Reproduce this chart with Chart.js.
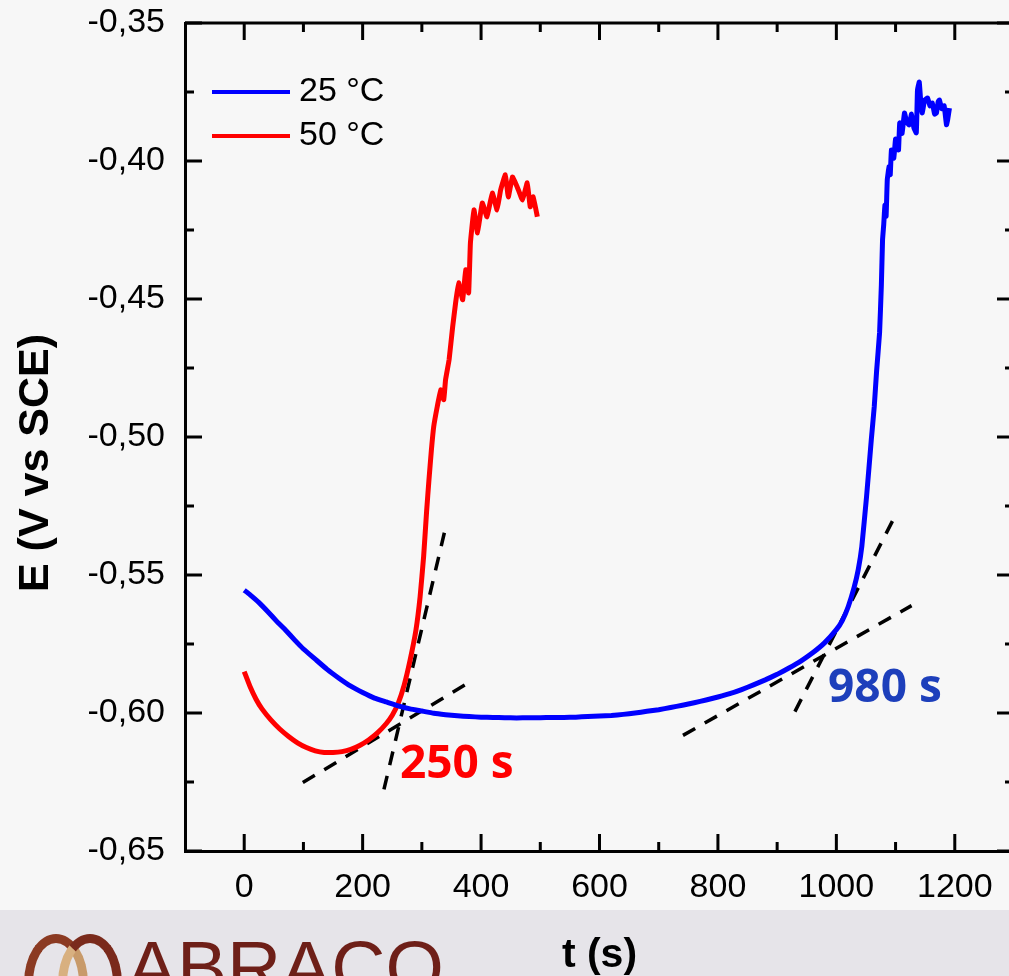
<!DOCTYPE html>
<html>
<head>
<meta charset="utf-8">
<script src="https://cdn.jsdelivr.net/npm/chart.js@4.4.1/dist/chart.umd.min.js"></script>
<style>
  html, body { margin: 0; padding: 0; width: 1009px; height: 976px; overflow: hidden; background: #f7f7f7; }
  #band { position: absolute; left: 0; top: 910px; width: 1009px; height: 66px; background: #e6e4e9; }
  #logo-text { position: absolute; left: 127px; top: 930px; font-family: "Liberation Sans", Arial, sans-serif; font-size: 75px; line-height: 75px; color: #6e1f18; }
  .ring { position: absolute; top: 934px; width: 46px; height: 80px; border-radius: 50%; border: 9px solid #8b3a22; }
  #ring1 { left: 24px; border-color: #8b3a22 #c89a6a #c89a6a #8b3a22; }
  #ring2 { left: 58px; border-color: #7a2a1c #7a2a1c #d8b080 #d8b080; }
  #wrap { position: absolute; left: 0; top: 0; width: 1040px; height: 976px; }
</style>
</head>
<body>
<div id="band"></div>
<div class="ring" id="ring1"></div>
<div class="ring" id="ring2"></div>
<div id="logo-text">ABRACO</div>
<div id="wrap"><canvas id="my-chart"></canvas></div>
<script>
'use strict';

// ********************* DATA *********************

let seriesNames = ['25 °C', '50 °C'];
let seriesColors = ['#0000ff', '#ff0000'];

// 25 °C curve
let blueT = [0, 10, 25, 40, 55, 70, 85, 100, 120, 140, 160, 180, 200, 220, 240, 260, 280, 300, 320, 340,
  360, 380, 400, 420, 440, 460, 480, 500, 520, 540, 560, 580, 600, 620, 640, 660, 680, 700, 720, 740,
  760, 780, 800, 820, 840, 860, 880, 900, 920, 940, 960, 980, 1000, 1010, 1020, 1030, 1037, 1043, 1051, 1059, 1064,
  1068, 1073, 1076, 1078, 1080, 1082, 1084, 1086, 1089, 1091, 1093, 1097, 1100, 1103, 1105, 1107, 1111, 1115, 1119, 1123,
  1127, 1131, 1135, 1137, 1140, 1143, 1145, 1149, 1154, 1158, 1162, 1166, 1169, 1172, 1174, 1178, 1182, 1186, 1188, 1191];
let blueE = [-0.5555, -0.5572, -0.5600, -0.5633, -0.5668, -0.5700, -0.5735, -0.5768, -0.5805, -0.5842, -0.5874, -0.5903, -0.5926, -0.5946, -0.5960, -0.5974, -0.5985, -0.5993, -0.6001, -0.6006,
  -0.6010, -0.6013, -0.6015, -0.6016, -0.6017, -0.6018, -0.6017, -0.6017, -0.6016, -0.6016, -0.6015, -0.6013, -0.6011, -0.6009, -0.6005, -0.6000, -0.5994, -0.5988, -0.5980, -0.5972,
  -0.5963, -0.5953, -0.5942, -0.5930, -0.5915, -0.5898, -0.5880, -0.5860, -0.5837, -0.5812, -0.5782, -0.5746, -0.5698, -0.5665, -0.5615, -0.5545, -0.5480, -0.5397, -0.5216, -0.5010, -0.4890,
  -0.4760, -0.4622, -0.4450, -0.4286, -0.4230, -0.4160, -0.4200, -0.4068, -0.4020, -0.4050, -0.3960, -0.3990, -0.3920, -0.3934, -0.3960, -0.3862, -0.3900, -0.3826, -0.3860, -0.3869,
  -0.3830, -0.3880, -0.3898, -0.3743, -0.3714, -0.3800, -0.3826, -0.3780, -0.3772, -0.3800, -0.3790, -0.3830, -0.3826, -0.3785, -0.3779, -0.3810, -0.3800, -0.3869, -0.3850, -0.3808];

// 50 °C curve
let redT = [0, 10, 20, 30, 45, 60, 75, 90, 105, 120, 135, 150, 165, 180, 195, 210, 225, 240, 250, 260,
  270, 280, 290, 297, 303, 308, 312, 316, 320, 326, 332, 337, 340, 346, 352, 357, 362, 369, 374, 379,
  382, 388, 394, 402, 410, 419, 427, 433, 441, 446, 453, 461, 470, 478, 483, 488, 495];
let redE = [-0.5850, -0.5905, -0.5950, -0.5985, -0.6025, -0.6058, -0.6085, -0.6108, -0.6125, -0.6137, -0.6143, -0.6143, -0.6140, -0.6132, -0.6118, -0.6098, -0.6072, -0.6038, -0.6008, -0.5965,
  -0.5900, -0.5810, -0.5700, -0.5580, -0.5433, -0.5270, -0.5155, -0.5050, -0.4963, -0.4890, -0.4829, -0.4865, -0.4793, -0.4720, -0.4601, -0.4514, -0.4441, -0.4503, -0.4394, -0.4478,
  -0.4297, -0.4177, -0.4260, -0.4152, -0.4202, -0.4116, -0.4177, -0.4105, -0.4050, -0.4130, -0.4058, -0.4094, -0.4141, -0.4079, -0.4166, -0.4130, -0.4202];

// dashed tangent lines (start / end)
let tangentT = [[99, 379], [236, 338], [741, 1127], [930, 1103]];
let tangentE = [[-0.6252, -0.5890], [-0.6277, -0.5347], [-0.6081, -0.5611], [-0.5995, -0.5270]];

// onset labels
let noteText = ['250 s', '980 s'];
let noteT = [359, 1082];
let noteE = [-0.6188, -0.5913];
let noteColors = ['#ff0000', '#1d3fbb'];

// axes
let xTicks = [0, 200, 400, 600, 800, 1000, 1200];
let xMinor = [100, 300, 500, 700, 900, 1100];
let yTicks = [-0.65, -0.60, -0.55, -0.50, -0.45, -0.40, -0.35];
let yMinor = [-0.625, -0.575, -0.525, -0.475, -0.425, -0.375];
let yTitle = 'E (V vs SCE)';

// ********************* HELPERS *********************

function toPoints(ts, es) {
  let pts = [];
  for (let i = 0; i < ts.length; i++) {
    pts.push({ x: ts[i], y: es[i] });
  }
  return pts;
}

let datasets = [
  { label: seriesNames[0], data: toPoints(blueT, blueE), borderColor: seriesColors[0], borderWidth: 5, pointRadius: 0, tension: 0.1 },
  { label: seriesNames[1], data: toPoints(redT, redE), borderColor: seriesColors[1], borderWidth: 5, pointRadius: 0, tension: 0.1 }
];

for (let i = 0; i < tangentT.length; i++) {
  datasets.push({
    label: 'tangent' + i,
    data: toPoints(tangentT[i], tangentE[i]),
    borderColor: '#000000',
    borderWidth: 3.5,
    borderDash: [14, 11],
    pointRadius: 0
  });
}

const tickFont = { family: '"Liberation Sans", Arial, sans-serif', size: 34 };
const titleFont = { family: '"Liberation Sans", Arial, sans-serif', size: 41, weight: 'bold', lineHeight: 1 };

// frame, inward ticks, y title, legend, notes
const extrasPlugin = {
  id: 'extras',
  afterDraw(chart) {
    let ctx = chart.ctx;
    let area = chart.chartArea;
    let xs = chart.scales.x;
    let ys = chart.scales.y;
    ctx.save();
    ctx.strokeStyle = '#000';
    ctx.lineWidth = 3;
    ctx.beginPath();
    ctx.moveTo(area.left, area.top);
    ctx.lineTo(area.right, area.top);
    ctx.lineTo(area.right, area.bottom);
    ctx.stroke();

    function xTick(v, len) {
      let px = xs.getPixelForValue(v);
      ctx.moveTo(px, area.bottom); ctx.lineTo(px, area.bottom - len);
      ctx.moveTo(px, area.top); ctx.lineTo(px, area.top + len);
    }
    function yTick(v, len) {
      let py = ys.getPixelForValue(v);
      ctx.moveTo(area.left, py); ctx.lineTo(area.left + len, py);
      ctx.moveTo(area.right, py); ctx.lineTo(area.right - len, py);
    }
    ctx.beginPath();
    xTicks.forEach(v => xTick(v, 17));
    xMinor.forEach(v => xTick(v, 9));
    yTicks.forEach(v => yTick(v, 17));
    yMinor.forEach(v => yTick(v, 9));
    ctx.stroke();

    // y axis title, sits a little below the plot centre
    ctx.save();
    ctx.translate(36, (area.top + area.bottom) / 2 + 26);
    ctx.rotate(-Math.PI / 2);
    ctx.font = 'bold 43px "Liberation Sans", Arial, sans-serif';
    ctx.fillStyle = '#000';
    ctx.textAlign = 'center';
    ctx.textBaseline = 'middle';
    ctx.fillText(yTitle, 0, 0);
    ctx.restore();

    // legend
    ctx.font = '34px "Liberation Sans", Arial, sans-serif';
    ctx.textBaseline = 'middle';
    ctx.textAlign = 'left';
    for (let i = 0; i < seriesNames.length; i++) {
      let ly = area.top + 69 + i * 44;
      ctx.strokeStyle = seriesColors[i];
      ctx.lineWidth = 4;
      ctx.beginPath();
      ctx.moveTo(area.left + 27, ly);
      ctx.lineTo(area.left + 105, ly);
      ctx.stroke();
      ctx.fillStyle = '#000';
      ctx.fillText(seriesNames[i], area.left + 114, ly);
    }

    // onset notes
    ctx.font = 'bold 46px "Open Sans", sans-serif';
    ctx.textAlign = 'center';
    for (let i = 0; i < noteText.length; i++) {
      ctx.fillStyle = noteColors[i];
      ctx.fillText(noteText[i], xs.getPixelForValue(noteT[i]), ys.getPixelForValue(noteE[i]));
    }
    ctx.restore();
  }
};

// ********************* CHART *********************

let ctx = document.getElementById('my-chart').getContext('2d');

new Chart(ctx, {
  type: 'line',
  data: { datasets: datasets },
  options: {
    responsive: true,
    maintainAspectRatio: false,
    animation: false,
    layout: { padding: { top: 23, right: 26, left: 0, bottom: 0 } },
    plugins: { legend: { display: false }, tooltip: { enabled: false } },
    scales: {
      x: {
        type: 'linear',
        min: -100,
        max: 1300,
        afterBuildTicks: s => { s.ticks = xTicks.map(v => ({ value: v })); },
        afterFit: s => { s.height = 125; s.paddingLeft = 0; s.paddingRight = 0; },
        grid: { display: false, drawTicks: false },
        border: { display: true, color: '#000', width: 3 },
        ticks: { font: tickFont, color: '#000', padding: 16, autoSkip: false, maxRotation: 0, callback: v => String(v) },
        title: { display: true, text: 't (s)', font: titleFont, color: '#000', padding: { top: 0, bottom: 0 } }
      },
      y: {
        type: 'linear',
        min: -0.65,
        max: -0.35,
        afterBuildTicks: s => { s.ticks = yTicks.map(v => ({ value: v })); },
        afterFit: s => { s.width = 185; s.paddingTop = 0; s.paddingBottom = 0; },
        grid: { display: false, drawTicks: false },
        border: { display: true, color: '#000', width: 3 },
        ticks: {
          font: tickFont,
          color: '#000',
          padding: 20,
          autoSkip: false,
          callback: v => v.toFixed(2).replace('.', ',')
        }
      }
    }
  },
  plugins: [extrasPlugin]
});
</script>
</body>
</html>
